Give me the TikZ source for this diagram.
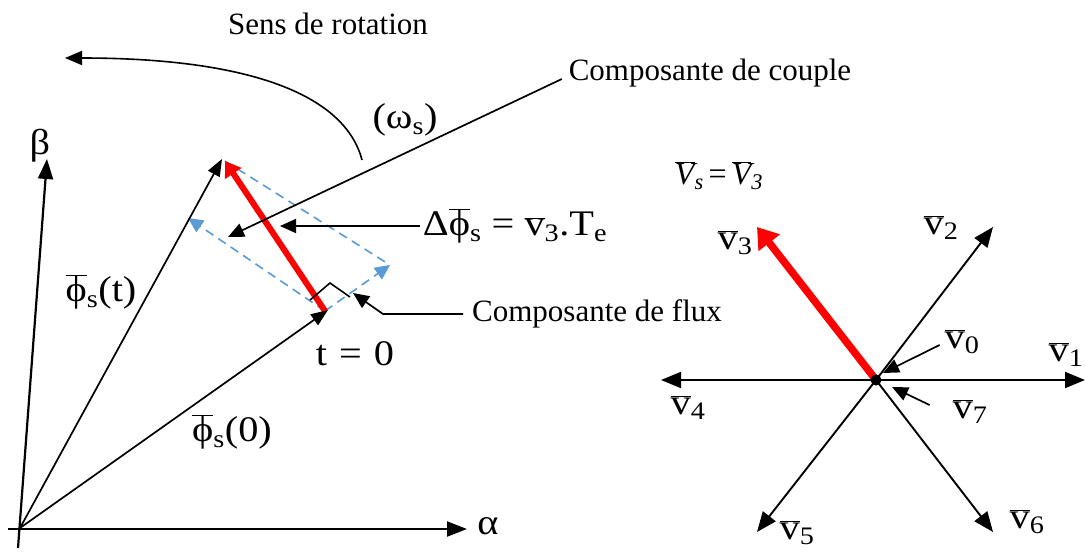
\RequirePackage{fix-cm}
\documentclass[tikz,border=0pt]{standalone}
\usepackage{fontspec}
\newfontfamily\tms{Liberation Serif}[FakeStretch=1.12]
\newfontfamily\txtf{Liberation Serif}
\usetikzlibrary{arrows.meta}
\definecolor{vred}{RGB}{255,0,0}
\definecolor{vblue}{RGB}{91,155,213}
\newcommand{\fsz}[1]{\fontsize{#1}{#1}\selectfont}
\newcommand{\ob}[1]{\ensuremath{\overline{\hbox{#1}}}}
\newcommand{\sbs}[1]{\textsubscript{#1}}
\begin{document}
\begin{tikzpicture}[x=1pt,y=-1pt,
  every node/.style={inner sep=0pt, outer sep=0pt},
  blk/.style={line width=1.7pt,-{Triangle[length=17pt,width=13pt]}},
  axisv/.style={line width=2.2pt,-{Triangle[length=20pt,width=15pt]}},
  hexv/.style={line width=1.9pt,-{Triangle[length=20pt,width=16pt]}},
  redv/.style={line width=6pt, vred, -{Triangle[length=15pt,width=19pt]}},
  redh/.style={line width=7.5pt, vred, -{Triangle[length=20pt,width=26pt]}},
  bld/.style={vblue, line width=1.6pt, dash pattern=on 9pt off 6pt},
  bla/.style={bld, -{Triangle[length=15pt,width=14pt]}},
  lead/.style={line width=1.7pt,-{Triangle[length=16pt,width=14pt]}},
  txt/.style={font=\txtf\fsz{31}},
  sym/.style={font=\tms\fsz{36}},
]
\useasboundingbox (0,0) rectangle (1086,552);
\fill[white] (0,0) rectangle (1086,552);

% ---------- left diagram: points
\coordinate (O) at (20,528);
\coordinate (ax0) at (8,529);
\coordinate (ax1) at (467,529);
\coordinate (by0) at (18,548);
\coordinate (by1) at (47,159);
\coordinate (PT) at (222,159);
\coordinate (P0) at (328,310);
\coordinate (A) at (325,311);
\coordinate (C) at (225,161);
\coordinate (D) at (188,218);
\coordinate (B) at (390,265);
\coordinate (ra1) at (310,300);
\coordinate (ra2) at (330,283);
\coordinate (ra3) at (350,297);
\coordinate (arc0) at (362,160);
\coordinate (arc1) at (65,58);
\coordinate (ctip) at (228,237);
\coordinate (dtip) at (280,229);
\coordinate (fk) at (383,318);
\coordinate (ftip) at (353,293);

% ---------- left labels
\node[txt] (sens) at (328,24) {Sens de rotation};
\node[sym] (om) at (405,120) {(ω\sbs{s})};
\node[txt] (couple) at (710,73) {Composante de couple};
\node[txt] (flux) at (597,314) {Composante de flux};
\node[sym] (beta) at (40,146) {β};
\node[sym] (alpha) at (488,526) {α};
\node[sym] (phit) at (101,292) {\ob{ϕ}\sbs{s}(t)};
\node[sym] (phi0) at (232,432) {\ob{ϕ}\sbs{s}(0)};
\node[sym] (tz) at (355,354) {t\hspace{12pt}=\hspace{12pt}0};
\node[sym] (delta) at (515,226) {Δ\ob{ϕ}\sbs{s} = \ob{v}\sbs{3}.T\sbs{e}};

% blue dashed components
\draw[bld] (C) -- (B);
\draw[bla] (A) -- (D);
\draw[bla] (A) -- (B);

% red stator vector change
\draw[redv] (A) -- (C);

% axes and flux vectors
\draw[axisv] (ax0) -- (ax1);
\draw[axisv] (by0) -- (by1);
\draw[blk] (O) -- (PT);
\draw[blk] (O) -- (P0);

% right angle
\draw[line width=1.6pt] (ra1) -- (ra2) -- (ra3);

% rotation arc
\draw[line width=1.6pt,-{Triangle[length=17pt,width=14pt]}] (arc0) .. controls (345,95) and (250,58) .. (arc1);

% leaders
\draw[lead] ([xshift=-7pt,yshift=-6pt]couple.west) -- (ctip);
\draw[lead] ([xshift=-3pt]delta.west) -- (dtip |- delta.west);
\draw[lead] ([xshift=-9pt]flux.west) -- (fk |- flux.west) -- (ftip);

% ---------- right diagram
\coordinate (Z) at (876,380);
\coordinate (V1) at (1085,380);
\coordinate (V2) at (993,227);
\coordinate (V3) at (757,227);
\coordinate (V4) at (661,380);
\coordinate (V5) at (757,532);
\coordinate (V6) at (993,532);
\coordinate (T0) at (883,373);
\coordinate (T7) at (892,387);

\node[font=\txtf\fsz{32}] (vs) at (719,176) {\textit{\ob{V}\sbs{s}}\hspace{5pt}=\hspace{5pt}\textit{\ob{V}\sbs{3}}};
\node[sym] (v1) at (1066,355) {\ob{v}\sbs{1}};
\node[sym] (v2) at (941,228) {\ob{v}\sbs{2}};
\node[sym] (v3) at (735,243) {\ob{v}\sbs{3}};
\node[sym] (v4) at (688,408) {\ob{v}\sbs{4}};
\node[sym] (v5) at (797,533) {\ob{v}\sbs{5}};
\node[sym] (v6) at (1027,522) {\ob{v}\sbs{6}};
\node[sym] (v0) at (962,342) {\ob{v}\sbs{0}};
\node[sym] (v7) at (970,412) {\ob{v}\sbs{7}};

\draw[hexv] (Z) -- (V1);
\draw[hexv] (Z) -- (V2);
\draw[hexv] (Z) -- (V4);
\draw[hexv] (Z) -- (V5);
\draw[hexv] (Z) -- (V6);
\draw[redh] (Z) -- (V3);
\fill (Z) circle (5.5pt);
\draw[lead] ([xshift=-5pt,yshift=-3pt]v0.west) -- (T0);
\draw[lead] ([xshift=-23pt,yshift=7pt]v7.west) -- (T7);
\end{tikzpicture}
\end{document}
